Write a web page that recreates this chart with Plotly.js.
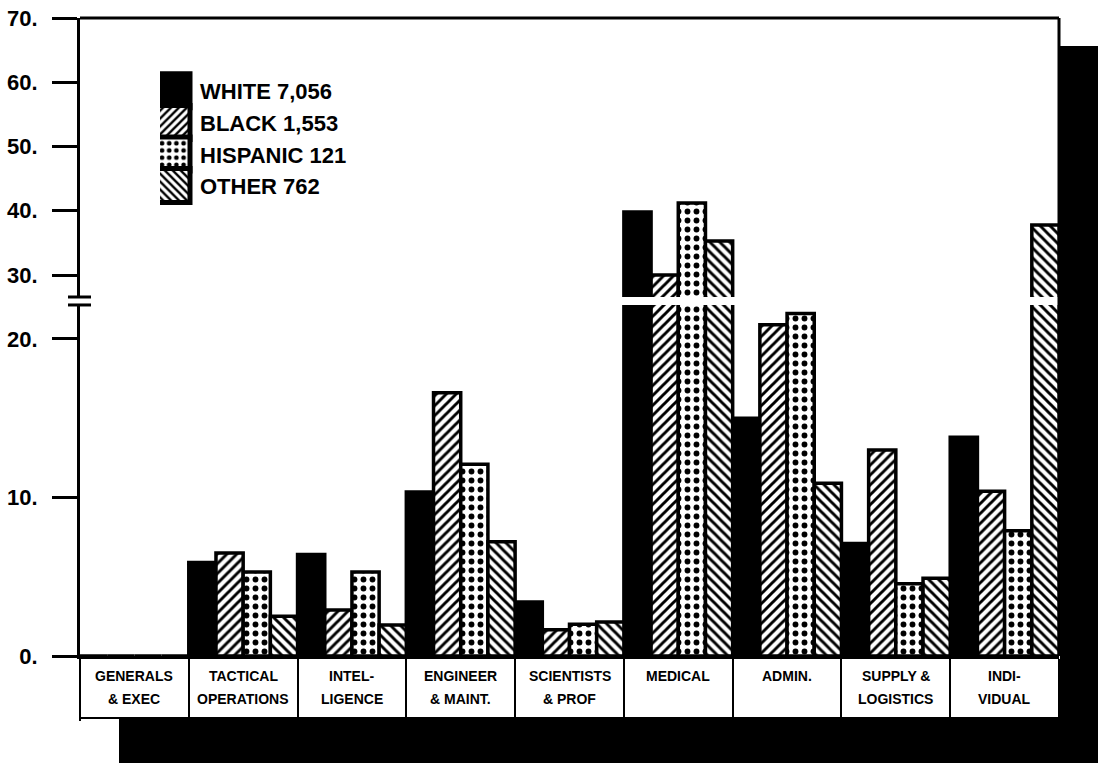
<!DOCTYPE html>
<html>
<head>
<meta charset="utf-8">
<script src="https://cdn.plot.ly/plotly-3.0.1.min.js"></script>
<style>
  html, body { margin: 0; padding: 0; background: #fff; }
  #chart { width: 1098px; height: 763px; }
</style>
</head>
<body>
<div id="chart"></div>
<script>
// ---- data ----
const categories = ['GENERALS & EXEC', 'TACTICAL OPERATIONS', 'INTELLIGENCE', 'ENGINEER & MAINT.',
  'SCIENTISTS & PROF', 'MEDICAL', 'ADMIN.', 'SUPPLY & LOGISTICS', 'INDIVIDUAL'];
const labelLine1 = ['GENERALS', 'TACTICAL', 'INTEL-', 'ENGINEER', 'SCIENTISTS', 'MEDICAL', 'ADMIN.', 'SUPPLY &', 'INDI-'];
const labelLine2 = ['& EXEC', 'OPERATIONS', 'LIGENCE', '& MAINT.', '& PROF', '', '', 'LOGISTICS', 'VIDUAL'];

const seriesNames = ['WHITE 7,056', 'BLACK 1,553', 'HISPANIC 121', 'OTHER 762'];
const white    = [0, 5.9, 6.4, 10.35, 3.4, 39.8, 15.0, 7.1, 13.8];
const black    = [0, 6.5, 2.9, 16.6, 1.65, 30.0, 20.9, 13.0, 10.4];
const hispanic = [0, 5.3, 5.3, 12.1, 2.0, 41.2, 21.6, 4.55, 7.9];
const other    = [0, 2.5, 1.95, 7.2, 2.15, 35.3, 10.9, 4.9, 37.8];

const lowerTickVals = [0, 10, 20];
const lowerTickText = ['0.', '10.', '20.'];
const upperTickVals = [30, 40, 50, 60, 70];
const upperTickText = ['30.', '40.', '50.', '60.', '70.'];

// ---- styles ----
const seriesValues = [white, black, hispanic, other];
const patterns = [
  null,
  {shape: '/', size: 7, solidity: 0.42, fgcolor: 'black', bgcolor: 'white', fillmode: 'replace'},
  {shape: '.', size: 9, solidity: 0.33, fgcolor: 'black', bgcolor: 'white', fillmode: 'replace'},
  {shape: '\\', size: 7, solidity: 0.42, fgcolor: 'black', bgcolor: 'white', fillmode: 'replace'}
];

const data = [];
['y', 'y2'].forEach((ax, ai) => {
  seriesValues.forEach((vals, i) => {
    const marker = {
      color: i === 0 ? 'black' : 'white',
      line: {color: 'black', width: 3.5}
    };
    if (patterns[i]) marker.pattern = patterns[i];
    data.push({
      type: 'bar',
      x: categories,
      y: vals,
      name: seriesNames[i],
      xaxis: 'x',
      yaxis: ax,
      marker: marker,
      showlegend: ai === 0,
      legendgroup: 'g' + i,
      hoverinfo: 'skip'
    });
  });
});

const lowerDomain = [0, 0.5502];
const upperDomain = [0.5627, 1];
const tickFont = {family: 'Liberation Sans, Arial, sans-serif', size: 22, weight: 'bold', color: 'black'};
const labFont = {family: 'Liberation Sans, Arial, sans-serif', size: 14, weight: 'bold', color: 'black'};

const annotations = [];
categories.forEach((c, i) => {
  annotations.push({x: c, xref: 'x', y: 0, yref: 'paper', yanchor: 'middle', yshift: -20,
    text: labelLine1[i], showarrow: false, font: labFont});
  if (labelLine2[i]) annotations.push({x: c, xref: 'x', y: 0, yref: 'paper', yanchor: 'middle', yshift: -43,
    text: labelLine2[i], showarrow: false, font: labFont});
});

const plotW = 979, plotH = 638;
const px = v => (v - 80) / plotW;          // helper for decoration shapes (pixel -> paper)
const py = v => (656 - v) / plotH;

const shapes = [
  // frame top and right
  {type: 'line', xref: 'paper', yref: 'paper', x0: 0, x1: 1, y0: 1, y1: 1, line: {color: 'black', width: 3}, layer: 'below'},
  {type: 'line', xref: 'paper', yref: 'paper', x0: 1, x1: 1, y0: 1, y1: 0, line: {color: 'black', width: 3}, layer: 'below'},
  // axis break marks
  {type: 'line', xref: 'paper', yref: 'paper', x0: px(68), x1: px(91), y0: upperDomain[0], y1: upperDomain[0], line: {color: 'black', width: 3}},
  {type: 'line', xref: 'paper', yref: 'paper', x0: px(68), x1: px(91), y0: lowerDomain[1], y1: lowerDomain[1], line: {color: 'black', width: 3}},
  // bottom of label boxes
  {type: 'line', xref: 'paper', yref: 'paper', x0: px(79), x1: 1, y0: py(718), y1: py(718), line: {color: 'black', width: 2}},
  // shadows
  {type: 'rect', xref: 'paper', yref: 'paper', x0: px(1060), x1: px(1100), y0: py(46), y1: py(765), fillcolor: 'black', line: {width: 0}},
  {type: 'rect', xref: 'paper', yref: 'paper', x0: px(119), x1: px(1100), y0: py(719), y1: py(765), fillcolor: 'black', line: {width: 0}}
];

const layout = {
  width: 1098, height: 763,
  margin: {l: 80, r: 39, t: 18, b: 107},
  paper_bgcolor: 'white', plot_bgcolor: 'white',
  barmode: 'group', bargap: 0, bargroupgap: 0,
  showlegend: true,
  legend: {
    x: px(160), y: py(70), xanchor: 'left', yanchor: 'top',
    bgcolor: 'rgba(0,0,0,0)', borderwidth: 0,
    traceorder: 'grouped', tracegroupgap: 0,
    font: {family: 'Liberation Sans, Arial, sans-serif', size: 22, weight: 'bold', color: 'black'}
  },
  xaxis: {
    type: 'category', categoryorder: 'array', categoryarray: categories,
    range: [-0.5, categories.length - 0.5],
    showline: true, linecolor: 'black', linewidth: 3,
    ticks: 'outside', tickson: 'boundaries', ticklen: 62, tickwidth: 2, tickcolor: 'black',
    showticklabels: false, showgrid: false, zeroline: false, fixedrange: true,
    anchor: 'y'
  },
  yaxis: {
    domain: lowerDomain, range: [0, 22.145],
    tickvals: lowerTickVals, ticktext: lowerTickText,
    ticks: 'outside', ticklen: 25, tickwidth: 3, tickcolor: 'black',
    ticklabelstandoff: 10, tickfont: tickFont,
    showline: true, linecolor: 'black', linewidth: 3,
    showgrid: false, zeroline: false, anchor: 'x'
  },
  yaxis2: {
    domain: upperDomain, range: [26.576, 70],
    tickvals: upperTickVals, ticktext: upperTickText,
    ticks: 'outside', ticklen: 25, tickwidth: 3, tickcolor: 'black',
    ticklabelstandoff: 10, tickfont: tickFont,
    showline: true, linecolor: 'black', linewidth: 3,
    showgrid: false, zeroline: false, anchor: 'x'
  },
  annotations: annotations,
  shapes: shapes
};

Plotly.newPlot('chart', data, layout, {staticPlot: true, displayModeBar: false}).then(gd => {
  gd.querySelectorAll('.legend .legendpoints path').forEach(p => {
    p.setAttribute('d', 'M-26,-17H10V17H-26Z');
    p.style.stroke = 'black';
    p.style.strokeWidth = '5px';
  });
});
</script>
</body>
</html>
